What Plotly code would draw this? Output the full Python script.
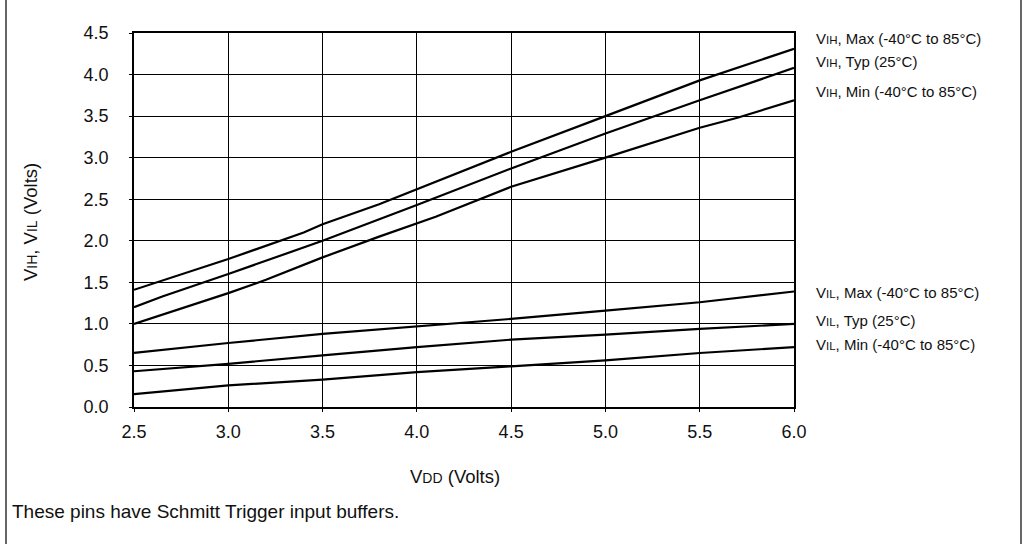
import plotly.graph_objects as go

# Supply voltage samples (Volts)
vdd_vih_max = [2.5, 3.0, 3.4, 3.5, 3.8, 4.0, 4.5, 5.0, 5.5, 6.0]
vih_max = [1.41, 1.78, 2.10, 2.20, 2.44, 2.62, 3.07, 3.50, 3.93, 4.31]

vdd_vih_typ = [2.5, 2.65, 3.0, 3.2, 3.5, 4.0, 4.5, 5.0, 5.5, 6.0]
vih_typ = [1.20, 1.33, 1.60, 1.76, 2.00, 2.43, 2.87, 3.29, 3.69, 4.08]

vdd_vih_min = [2.5, 3.0, 3.2, 3.5, 3.8, 4.1, 4.5, 5.0, 5.5, 5.7, 6.0]
vih_min = [1.00, 1.37, 1.53, 1.80, 2.05, 2.29, 2.65, 3.00, 3.36, 3.48, 3.69]

vdd_vil = [2.5, 3.0, 3.5, 4.0, 4.5, 5.0, 5.5, 6.0]
vil_max = [0.65, 0.77, 0.88, 0.97, 1.06, 1.16, 1.26, 1.39]
vil_typ = [0.43, 0.52, 0.62, 0.72, 0.81, 0.87, 0.94, 1.00]
vil_min = [0.155, 0.26, 0.33, 0.42, 0.49, 0.56, 0.65, 0.72]

x_ticks = [2.5, 3.0, 3.5, 4.0, 4.5, 5.0, 5.5, 6.0]
y_ticks = [0.0, 0.5, 1.0, 1.5, 2.0, 2.5, 3.0, 3.5, 4.0, 4.5]

SC = "<span style='font-size:11.5px'>{}</span>"
series_labels = [
    "V" + SC.format("IH") + ", Max (-40°C to 85°C)",
    "V" + SC.format("IH") + ", Typ (25°C)",
    "V" + SC.format("IH") + ", Min (-40°C to 85°C)",
    "V" + SC.format("IL") + ", Max (-40°C to 85°C)",
    "V" + SC.format("IL") + ", Typ (25°C)",
    "V" + SC.format("IL") + ", Min (-40°C to 85°C)",
]

FONT = "Liberation Sans, Arial, Helvetica, sans-serif"
INK = "#111111"

W, H = 1024, 544
L, R, T, B = 134, 230, 33, 137
PW, PH = W - L - R, H - T - B


def px_x(p):
    return (p - L) / PW


def px_y(p):
    return (H - B - p) / PH


fig = go.Figure()
series = [
    (vdd_vih_max, vih_max),
    (vdd_vih_typ, vih_typ),
    (vdd_vih_min, vih_min),
    (vdd_vil, vil_max),
    (vdd_vil, vil_typ),
    (vdd_vil, vil_min),
]
for xs, ys in series:
    fig.add_trace(go.Scatter(x=xs, y=ys, mode="lines",
                             line=dict(color="black", width=2.2),
                             showlegend=False, hoverinfo="skip"))

# Curve labels to the right of the plot
label_px_y = [38, 62, 92, 292, 320, 344]
annotations = []
for text, py in zip(series_labels, label_px_y):
    annotations.append(dict(text=text, x=px_x(814), y=px_y(py), xref="paper", yref="paper",
                            xanchor="left", yanchor="middle", showarrow=False,
                            font=dict(size=15, color=INK, family=FONT)))

annotations.append(dict(text="V" + "<span style='font-size:14px'>DD</span> (Volts)",
                        x=px_x(455), y=px_y(476), xref="paper", yref="paper",
                        xanchor="center", yanchor="middle", showarrow=False,
                        font=dict(size=18.5, color=INK, family=FONT)))
annotations.append(dict(text="V" + "<span style='font-size:14px'>IH</span>, V"
                        + "<span style='font-size:14px'>IL</span> (Volts)",
                        x=px_x(30), y=px_y(222), xref="paper", yref="paper",
                        xanchor="center", yanchor="middle", textangle=-90, showarrow=False,
                        font=dict(size=18.5, color=INK, family=FONT)))
annotations.append(dict(text="These pins have Schmitt Trigger input buffers.",
                        x=px_x(10), y=px_y(511), xref="paper", yref="paper",
                        xanchor="left", yanchor="middle", showarrow=False,
                        font=dict(size=19, color=INK, family=FONT)))

# Outer frame edges
shapes = [
    dict(type="line", xref="paper", yref="paper", x0=px_x(6), x1=px_x(6),
         y0=px_y(-2), y1=px_y(H + 2), line=dict(color="black", width=1.2)),
    dict(type="line", xref="paper", yref="paper", x0=px_x(1021), x1=px_x(1021),
         y0=px_y(-2), y1=px_y(H + 2), line=dict(color="black", width=1.2)),
]

fig.update_layout(
    width=W, height=H,
    margin=dict(l=L, r=R, t=T, b=B),
    paper_bgcolor="white", plot_bgcolor="white",
    annotations=annotations, shapes=shapes,
    xaxis=dict(range=[2.5, 6.0], tickvals=x_ticks, ticktext=[f"{v:.1f}" for v in x_ticks],
               showgrid=True, gridcolor="black", gridwidth=1.2, zeroline=False,
               showline=True, linecolor="black", linewidth=1.5, mirror=True,
               ticks="outside", ticklen=3, tickcolor="black",
               tickfont=dict(size=18, color=INK, family=FONT), ticklabelstandoff=5),
    yaxis=dict(range=[0, 4.5], tickvals=y_ticks, ticktext=[f"{v:.1f}" for v in y_ticks],
               showgrid=True, gridcolor="black", gridwidth=1.2, zeroline=False,
               showline=True, linecolor="black", linewidth=1.5, mirror=True,
               ticks="outside", ticklen=3, tickcolor="black",
               tickfont=dict(size=18, color=INK, family=FONT), ticklabelstandoff=17),
)

fig.write_html("out.html")
